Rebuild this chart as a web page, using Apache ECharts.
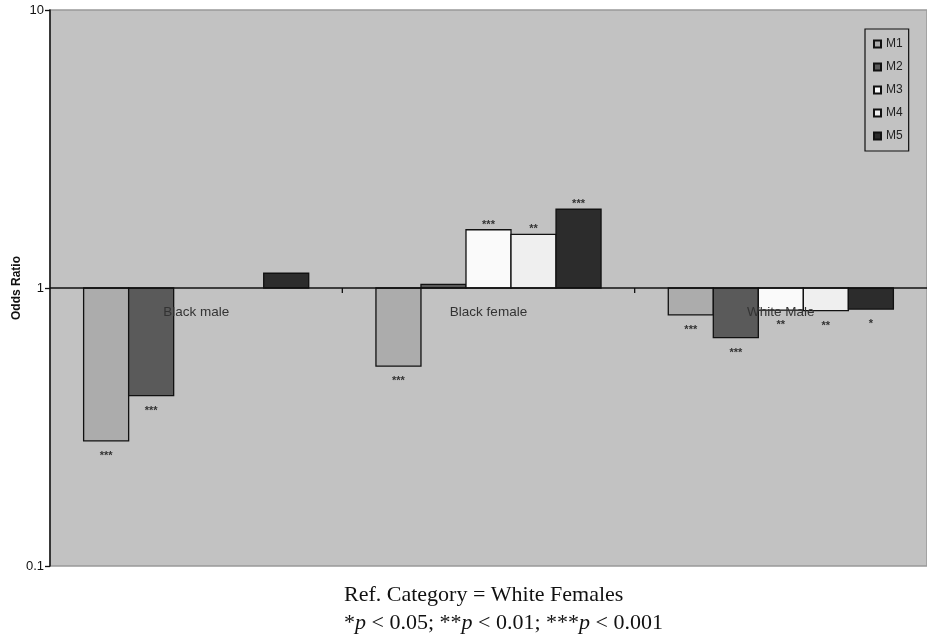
<!DOCTYPE html>
<html>
<head>
<meta charset="utf-8">
<script src="https://cdn.jsdelivr.net/npm/echarts@6/dist/echarts.min.js"></script>
<style>
  html, body { margin: 0; padding: 0; background: #fff; }
  #chart { width: 927px; height: 635px; }
</style>
</head>
<body>
<div id="chart"></div>
<script>
const categories = ['Black male', 'Black female', 'White Male'];
const seriesNames = ['M1', 'M2', 'M3', 'M4', 'M5'];
const colors = ['#acacac', '#5a5a5a', '#fafafa', '#efefef', '#2c2c2c'];

// odds ratios per model (null = no bar)
const m1 = [0.282, 0.524, 0.80];
const m2 = [0.410, 1.03, 0.663];
const m3 = [null, 1.62, 0.833];
const m4 = [null, 1.56, 0.829];
const m5 = [1.13, 1.92, 0.84];

// significance stars
const m1Sig = ['***', '***', '***'];
const m2Sig = ['***', '', '***'];
const m3Sig = ['', '***', '**'];
const m4Sig = ['', '**', '**'];
const m5Sig = ['', '***', '*'];

const values = [m1, m2, m3, m4, m5];
const sigs = [m1Sig, m2Sig, m3Sig, m4Sig, m5Sig];

const chart = echarts.init(document.getElementById('chart'), null, { renderer: 'canvas' });

function barRenderer(k) {
    return function(params, api) {
        const idx = api.value(0);
        const v = api.value(1);
        const base = api.coord([idx, 1]);
        const end = api.coord([idx, v]);
        const band = api.size([1, 0])[0];
        const barW = band * 0.154;
        const cx = base[0] + (k - 2) * barW;
        const y0 = Math.min(base[1], end[1]);
        const h = Math.abs(base[1] - end[1]);
        const sig = sigs[k][idx];
        const children = [{
            type: 'rect',
            shape: { x: cx - barW / 2, y: y0, width: barW, height: h },
            style: { fill: colors[k], stroke: '#111', lineWidth: 1.3 }
        }];
        if (sig) {
            const below = v < 1;
            children.push({
                type: 'text',
                style: {
                    text: sig,
                    x: cx,
                    y: below ? end[1] + 15 : end[1] - 5,
                    align: 'center',
                    verticalAlign: 'middle',
                    fill: '#333',
                    font: 'bold 11px "Liberation Sans", Arial, sans-serif'
                }
            });
        }
        return { type: 'group', children: children };
    };
}

const barSeries = seriesNames.map((name, k) => ({
    name: name,
    type: 'custom',
    renderItem: barRenderer(k),
    itemStyle: { color: colors[k], borderColor: '#111', borderWidth: 1 },
    encode: { x: 0, y: 1 },
    data: values[k]
        .map((v, i) => [i, v])
        .filter(d => d[1] !== null),
    z: 3
}));

// baseline at 1 with category labels and ticks
const baseSeries = {
    name: 'base',
    type: 'custom',
    silent: true,
    z: 4,
    encode: { x: 0, y: 1 },
    data: categories.map((c, i) => [i, 1]),
    renderItem: function(params, api) {
        const idx = api.value(0);
        const p = api.coord([idx, 1]);
        const band = api.size([1, 0])[0];
        const children = [{
            type: 'text',
            style: {
                text: categories[idx],
                x: p[0],
                y: p[1] + 24,
                align: 'center',
                verticalAlign: 'middle',
                fill: '#333',
                font: '13.5px "Liberation Sans", Arial, sans-serif'
            }
        }];
        if (idx < categories.length - 1) {
            children.push({
                type: 'line',
                shape: { x1: p[0] + band / 2, y1: p[1], x2: p[0] + band / 2, y2: p[1] + 5 },
                style: { stroke: '#111', lineWidth: 1.3 }
            });
        }
        return { type: 'group', children: children };
    },
    markLine: {
        silent: true,
        symbol: 'none',
        label: { show: false },
        lineStyle: { color: '#111', width: 1.5, type: 'solid' },
        data: [{ yAxis: 1 }]
    }
};

const serif = '"Liberation Serif", "Times New Roman", serif';

const option = {
    animation: false,
    backgroundColor: '#fff',
    title: {
        left: 339,
        top: 576,
        text: '{n|Ref. Category = White Females}\n{n|*}{i|p}{n| < 0.05; **}{i|p}{n| < 0.01; ***}{i|p}{n| < 0.001}',
        textStyle: {
            fontWeight: 'normal',
            rich: {
                n: { fontFamily: serif, fontSize: 22, fontWeight: 'normal', color: '#111', lineHeight: 28 },
                i: { fontFamily: serif, fontSize: 22, fontWeight: 'normal', fontStyle: 'italic', color: '#111', lineHeight: 28 }
            }
        }
    },
    legend: {
        data: seriesNames,
        orient: 'vertical',
        left: 865,
        top: 29,
        padding: [8, 6, 8, 8],
        itemWidth: 7,
        itemHeight: 7,
        itemGap: 9,
        icon: 'rect',
        backgroundColor: '#c2c2c2',
        borderColor: '#111',
        borderWidth: 1.2,
        textStyle: {
            fontFamily: '"Liberation Sans", Arial, sans-serif',
            fontSize: 12,
            color: '#222',
            lineHeight: 14
        }
    },
    grid: {
        left: 50,
        right: 0,
        top: 10,
        bottom: 69,
        outerBoundsMode: 'none',
        containLabel: false,
        show: true,
        backgroundColor: '#c2c2c2',
        borderColor: '#999',
        borderWidth: 1.5
    },
    xAxis: {
        type: 'category',
        data: categories,
        axisLine: { show: false },
        axisTick: { show: false },
        axisLabel: { show: false },
        splitLine: { show: false }
    },
    yAxis: {
        type: 'log',
        logBase: 10,
        min: 0.1,
        max: 10,
        name: 'Odds Ratio',
        nameLocation: 'middle',
        nameGap: 27,
        nameMoveOverlap: false,
        nameTextStyle: {
            fontFamily: '"Liberation Sans", Arial, sans-serif',
            fontSize: 12,
            fontWeight: 'bold',
            color: '#111'
        },
        axisLine: { show: true, lineStyle: { color: '#111', width: 1.5 } },
        axisTick: { show: true, inside: false, length: 5, lineStyle: { color: '#111', width: 1.3 } },
        axisLabel: {
            margin: 6,
            fontFamily: '"Liberation Sans", Arial, sans-serif',
            fontSize: 13,
            color: '#111',
            formatter: v => (v >= 1 ? String(Math.round(v)) : v.toFixed(1))
        },
        splitLine: { show: false }
    },
    series: barSeries.concat([baseSeries])
};

chart.setOption(option);
</script>
</body>
</html>
